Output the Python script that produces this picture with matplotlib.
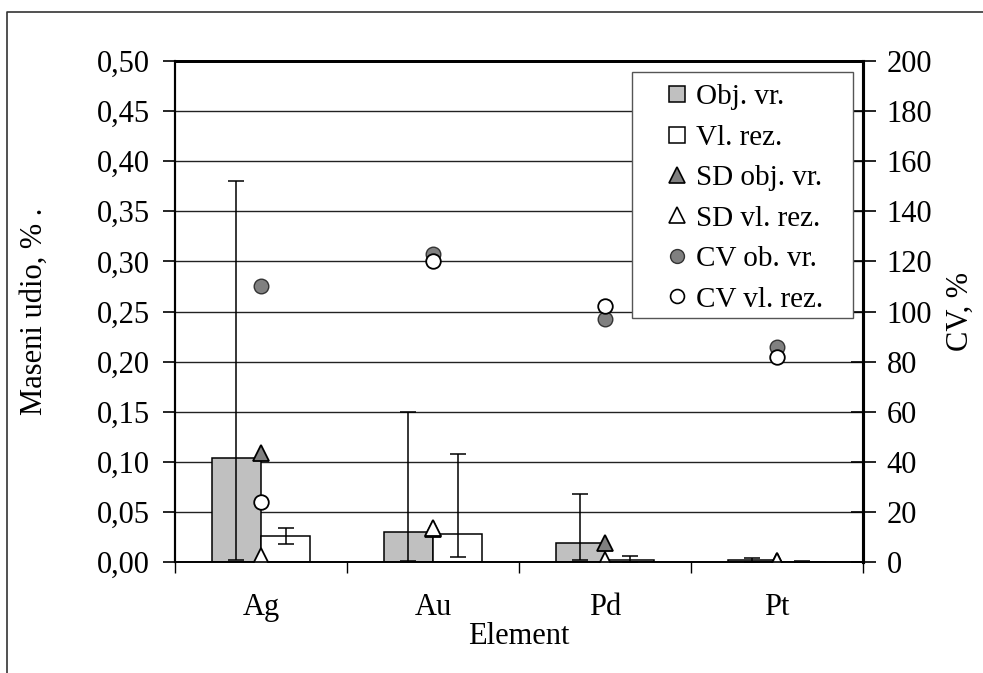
import numpy as np
import matplotlib
matplotlib.use("Agg")
import matplotlib.pyplot as plt
from matplotlib.lines import Line2D
from matplotlib.patches import Rectangle

plt.rcParams['font.family'] = ['Liberation Serif', 'DejaVu Serif']

# data
elements = ['Ag', 'Au', 'Pd', 'Pt']
obj_vr = [0.104, 0.030, 0.019, 0.002]
vl_rez = [0.026, 0.028, 0.002, 0.0004]
# error bar ends (low / high)
obj_low = [0.002, 0.001, 0.002, 0.000]
obj_high = [0.380, 0.150, 0.068, 0.004]
vl_low = [0.018, 0.005, 0.000, 0.000]
vl_high = [0.034, 0.108, 0.006, 0.0006]
sd_obj = [0.109, 0.033, 0.019, 0.001]
sd_vl = [0.006, 0.034, 0.002, 0.001]
cv_obj = [110, 123, 97, 86]
cv_vl = [24, 120, 102, 82]

W, H = 983, 673
FS = 22
fig = plt.figure(figsize=(W / 100, H / 100), dpi=100)

# chart area border (cut at right and bottom like the reference)
fig.add_artist(Line2D([7 / W, 7 / W, 1.0], [0.0, 1 - 12 / H, 1 - 12 / H],
                      transform=fig.transFigure, color='#333333', lw=1.2))

ax = fig.add_axes([175 / W, 1 - 562 / H, (863 - 175) / W, (562 - 61) / H])
ax2 = ax.twinx()

x = np.arange(len(elements))
bw = 0.285

obj_err = [np.array(obj_vr) - np.array(obj_low), np.array(obj_high) - np.array(obj_vr)]
vl_err = [np.array(vl_rez) - np.array(vl_low), np.array(vl_high) - np.array(vl_rez)]

ax.bar(x - bw / 2, obj_vr, bw, color='#C0C0C0', edgecolor='black', lw=1.1, zorder=2)
ax.bar(x + bw / 2, vl_rez, bw, color='white', edgecolor='black', lw=1.1, zorder=2)
ax.errorbar(x - bw / 2, obj_vr, yerr=obj_err, fmt='none', ecolor='black',
            elinewidth=1.1, capsize=6, capthick=1.1, zorder=3)
ax.errorbar(x + bw / 2, vl_rez, yerr=vl_err, fmt='none', ecolor='black',
            elinewidth=1.1, capsize=6, capthick=1.1, zorder=3)

ax.plot(x, sd_obj, ls='none', marker='^', ms=12, mfc='#808080', mec='black', mew=1.3, zorder=4)
ax.plot(x, sd_vl, ls='none', marker='^', ms=12, mfc='white', mec='black', mew=1.3, zorder=4)

ax2.plot(x, cv_obj, ls='none', marker='o', ms=10.5, mfc='#808080', mec='#333333', mew=1.0, zorder=5)
ax2.plot(x, cv_vl, ls='none', marker='o', ms=10.5, mfc='white', mec='black', mew=1.3, zorder=5)

ax.set_xlim(-0.5, 3.5)
ax.set_ylim(0, 0.5)
ax2.set_ylim(0, 200)

yt = np.arange(0, 0.501, 0.05)
ax.set_yticks(yt)
ax.set_yticklabels([f"{v:.2f}".replace('.', ',') for v in yt])
ax2.set_yticks(np.arange(0, 201, 20))
ax.yaxis.grid(True, color='#222222', lw=1.0)
ax.set_axisbelow(True)

ax.set_xticks(x)
ax.set_xticklabels(elements)
ax.set_xticks(np.arange(-0.5, 3.6, 1), minor=True)
ax.tick_params(axis='x', which='major', length=0, pad=22, labelsize=FS)
ax.tick_params(axis='x', which='minor', length=8, direction='out', width=1.0)
ax.tick_params(axis='y', length=9, direction='out', width=1.2, labelsize=FS, pad=9)
ax2.tick_params(axis='y', length=18, direction='inout', width=1.2, labelsize=FS, pad=8)

for a in (ax, ax2):
    a.spines['top'].set_linewidth(2)
    a.spines['left'].set_linewidth(1.5)
    a.spines['bottom'].set_linewidth(1.2)
    a.spines['right'].set_linewidth(2.2)

ax.set_ylabel('Maseni udio, % .', fontsize=FS)
ax.yaxis.set_label_coords((49 - 175) / 688, 0.5)
ax2.set_ylabel('CV, %', fontsize=FS)
ax2.yaxis.set_label_coords((946 - 175) / 688, 0.5)
ax.set_xlabel('Element', fontsize=FS, labelpad=0)

# legend: frame drawn as a plain box, entries placed inside it
fig.add_artist(Rectangle((632 / W, 1 - 318 / H), (853 - 632) / W, (318 - 72) / H,
                         transform=fig.transFigure, facecolor='white',
                         edgecolor='#555555', lw=1.0, zorder=6))
handles = [
    Line2D([], [], ls='none', marker='s', ms=11, mfc='#C0C0C0', mec='black', mew=1.1),
    Line2D([], [], ls='none', marker='s', ms=11, mfc='white', mec='black', mew=1.1),
    Line2D([], [], ls='none', marker='^', ms=11, mfc='#808080', mec='black', mew=1.2),
    Line2D([], [], ls='none', marker='^', ms=11, mfc='white', mec='black', mew=1.2),
    Line2D([], [], ls='none', marker='o', ms=10, mfc='#808080', mec='#333333', mew=1.0),
    Line2D([], [], ls='none', marker='o', ms=10, mfc='white', mec='black', mew=1.2),
]
labels = ['Obj. vr.', 'Vl. rez.', 'SD obj. vr.', 'SD vl. rez.', 'CV ob. vr.', 'CV vl. rez.']
leg = fig.legend(handles, labels, loc='upper left', bbox_to_anchor=(662 / W, 1 - 84 / H),
                 borderaxespad=0, borderpad=0, fontsize=21, frameon=False,
                 handlelength=1.0, handletextpad=0.18, labelspacing=0.48)
leg.set_zorder(7)

fig.savefig('out.png', dpi=100)
